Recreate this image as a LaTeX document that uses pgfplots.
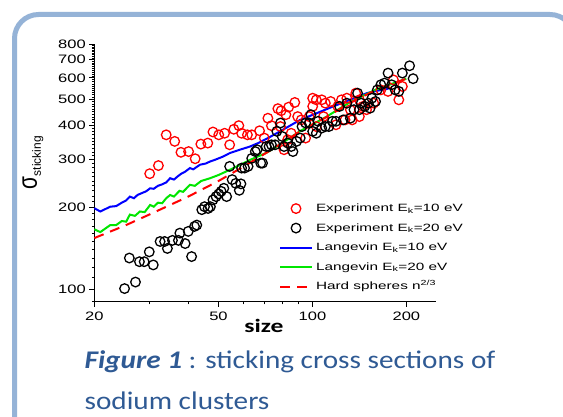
\documentclass[border=0pt]{standalone}
\usepackage{pgfplots}
\pgfplotsset{compat=1.18}
\usepackage{fontspec}
\setmainfont{Liberation Sans}
\newfontfamily\chartfont[FakeStretch=1.35]{Liberation Sans}
\newfontfamily\legfont[FakeStretch=1.45]{Liberation Sans}
\newfontfamily\capfont[FakeStretch=1.15]{Carlito}
\newfontfamily\sizefont[FakeStretch=1.35]{Carlito}
\definecolor{boxblue}{HTML}{95B3D7}
\definecolor{capblue}{HTML}{2F5A94}
\definecolor{lgreen}{HTML}{00E600}
\pgfplotsset{
  markleg/.style={legend image code/.code={\draw[##1] plot coordinates {(16bp,0bp)};}},
  lineleg/.style={legend image code/.code={\draw[##1] (0bp,0bp) -- (32bp,0bp);}},
}

\pgfplotstableread{
x y
30.1 266
32.1 285
34.0 370
36.2 350
37.9 319
40.1 321
42.1 302
43.9 342
46.2 345
48.0 379
50.1 370
52.3 375
54.3 340
56.0 388
58.1 400
59.3 375
61.9 370
63.9 370
67.7 383
70.1 360
72.0 426
73.9 400
77.5 462
79.4 454
82.2 439
83.9 468
87.8 487
89.7 432
92.1 420
81.1 326
83.3 355
85.5 375
79.0 397
95.1 360
100.2 505
102.9 498
107.1 498
100.2 471
97.6 432
102.9 397
108.5 432
110.0 484
114.4 491
119.0 403
120.6 471
123.9 498
127.2 420
128.9 505
132.3 458
134.1 420
137.7 527
141.4 498
141.4 432
145.2 471
149.1 458
157.2 484
165.7 542
174.7 535
181.8 590
189.2 498
194.2 558
}\expten

\pgfplotstableread{
x y
25.0 100.3
27.1 106
25.9 130
27.9 126
28.9 126
30.9 122.6
30.0 137
32.5 149.6
33.6 149.6
34.3 141
35.6 151
37.2 151
37.6 160.6
39.1 147
40.0 163
42.6 172
41.0 131.6
41.9 170
44.2 196
45.1 201
46.3 198
47.1 201
48.0 213
49.1 219
50.1 224
51.0 229
52.0 235
53.1 219
54.3 283
55.3 253
56.8 245
58.3 231
59.0 244
59.3 279
60.6 279
62.2 283
63.9 303
65.6 321
66.5 326
68.3 291
69.2 291
71.1 335
72.6 335
73.9 340
75.9 340
76.9 381
79.0 409
80.0 365
81.1 335
83.3 345
85.5 335
86.6 321
89.0 350
91.4 360
92.6 397
95.1 409
97.6 409
98.9 439
100.2 381
102.9 375
104.3 415
107.1 392
110.0 397
112.9 397
115.9 415
119.0 415
122.2 471
125.5 420
128.9 484
132.3 426
135.9 458
139.5 527
141.4 458
143.3 484
147.1 471
151.1 484
153.1 464
155.1 505
159.3 491
161.4 542
165.7 566
170.2 574
174.7 625
179.4 566
184.2 542
189.2 535
194.2 625
204.8 665
210.2 596
}\exptwenty

\pgfplotstableread{
x y
20.0 198.5
20.9 193
22.5 201
23.5 202
24.5 208
25.3 212
26.0 219
26.8 216
27.5 222
28.5 226
29.3 229
30.2 235
31.0 234
32.0 240
33.0 243
34.0 247
35.0 256
36.0 253
37.0 260
38.0 266
39.0 270
40.5 279
41.5 276
43.6 287
45.5 290
47.0 295
49.0 300
51.5 307
54.4 317
58.0 325
63.1 335
67.0 345
71.4 358
80.0 385
91.3 420
100.0 438
116.7 471
130.0 495
149.4 527
160.0 537
173.0 546
177.0 551
}\langten

\pgfplotstableread{
x y
20.0 166
20.9 162
22.5 172
23.5 172
24.5 178
25.3 177
26.0 188
27.0 186
28.0 193
29.0 192
30.2 204
31.0 201
32.0 208
33.0 207
34.0 216
35.0 222
36.0 219
37.5 230
38.5 228
40.5 242
42.0 240
44.0 250
47.0 256
50.0 263
54.4 275
58.0 285
63.1 299
71.4 318
80.0 345
91.3 382
110.0 429
132.0 488
160.0 544
200.0 596
}\langtwenty

\pgfplotstableread{
x y
20 154
25 171
30 188
40 219
50 250
60 282
70 314
80 345
91 380
110 428
132 485
160 542
200 596
}\hard

\begin{document}
\begin{tikzpicture}[x=1bp,y=1bp]
\useasboundingbox (0,0) rectangle (563,416);
\fill[white] (0,0) rectangle (563,416);
\begin{scope}
\clip (0,0) rectangle (563,416);
\draw[boxblue, line width=5bp, rounded corners=24bp] (14.5,-30) rectangle (574,401.5);
\end{scope}
\begin{axis}[
  at={(94.3bp,114bp)}, anchor=south west,
  scale only axis, width=341.2bp, height=258bp,
  xmode=log, ymode=log,
  xmin=20, xmax=248, ymin=89.5, ymax=800,
  axis lines*=left,
  axis line style={line width=1bp},
  xtick={20,50,100,200}, xticklabels={20,50,100,200},
  minor xtick={30,40,60,70,80,90},
  ytick={100,200,300,400,500,600,700,800},
  yticklabels={100,200,300,400,500,600,700,800},
  minor ytick={90,110,120,130,140,150,160,170,180,190,210,220,230,240,250,260,270,280,290,310,320,330,340,350,360,370,380,390,410,420,430,440,450,460,470,480,490,510,520,530,540,550,560,570,580,590,610,620,630,640,650,660,670,680,690,710,720,730,740,750,760,770,780,790},
  tick align=outside,
  major tick length=5bp, minor tick length=2.5bp,
  tick style={black, line width=0.8bp},
  ticklabel style={font=\chartfont\fontsize{12.3}{13}\selectfont},
  xticklabel style={yshift=-1bp},
  xlabel={size},
  xlabel style={font=\sizefont\bfseries\fontsize{19}{20}\selectfont, at={(axis description cs:0.497,-0.118)}, anchor=base},
  ylabel={\scalebox{1}[1.3]{\fontsize{21}{21}\selectfont σ}\raisebox{-4bp}{\fontsize{12}{12}\selectfont sticking}},
  ylabel style={at={(axis description cs:-0.18,0.54)}, anchor=center},
  legend style={at={(axis description cs:0.532,0.39)}, anchor=north west, draw=none, fill=none,
    font=\legfont\fontsize{10.6}{11}\selectfont, row sep=9.5bp, column sep=3bp,
    nodes={inner sep=0bp, text height=8bp, text depth=2bp}},
  legend cell align=left,
  clip=false,
]
\addplot[only marks, mark=o, mark size=4.8bp, red, mark options={line width=1.3bp}, markleg] table {\expten};
\addlegendentry{Experiment E\textsubscript{k}=10 eV}
\addplot[only marks, mark=o, mark size=4.8bp, black, mark options={line width=1.3bp}, markleg] table {\exptwenty};
\addlegendentry{Experiment E\textsubscript{k}=20 eV}
\addplot[blue, line width=2bp, no marks, lineleg] table {\langten};
\addlegendentry{Langevin E\textsubscript{k}=10 eV}
\addplot[lgreen, line width=2bp, no marks, lineleg] table {\langtwenty};
\addlegendentry{Langevin E\textsubscript{k}=20 eV}
\addplot[red, line width=2bp, no marks, dash pattern=on 10bp off 7bp, lineleg] table {\hard};
\addlegendentry{Hard spheres n\textsuperscript{2/3}}
\end{axis}
\node[anchor=base west, inner sep=0, text=capblue, font=\capfont\fontsize{25.5}{30}\selectfont] at (84.4,48) {\textbf{\textit{Figure 1}} : sticking cross sections of};
\node[anchor=base west, inner sep=0, text=capblue, font=\capfont\fontsize{25.5}{30}\selectfont] at (84.4,7) {sodium clusters};
\end{tikzpicture}
\end{document}
